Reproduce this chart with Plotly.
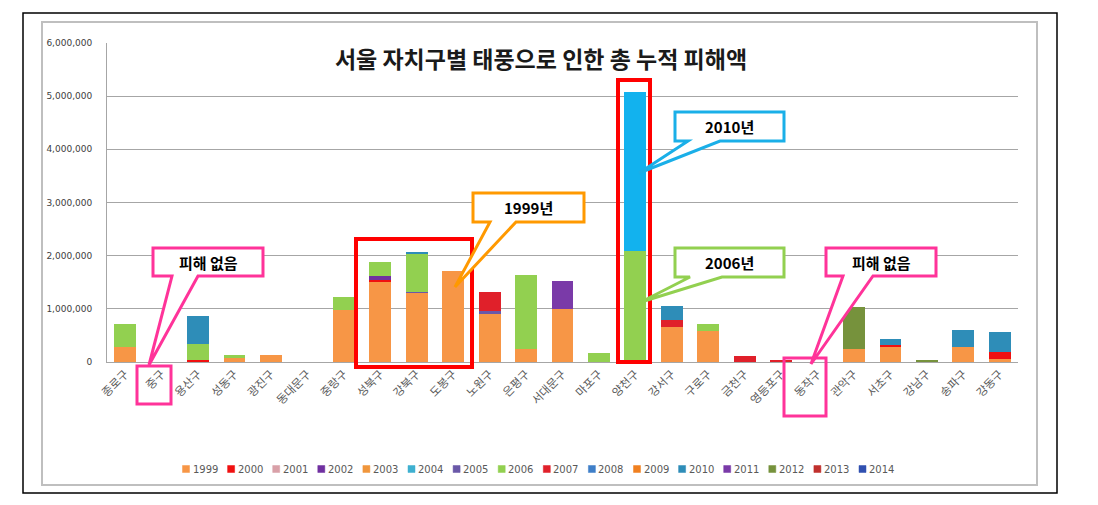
import plotly.graph_objects as go

# page pixels -> figure (body has an 8px margin in the written html)
OFF = 8
W, H = 1098 - OFF, 505 - OFF

districts = ["종로구", "중구", "용산구", "성동구", "광진구", "동대문구", "중랑구", "성북구", "강북구", "도봉구",
             "노원구", "은평구", "서대문구", "마포구", "양천구", "강서구", "구로구", "금천구", "영등포구", "동작구",
             "관악구", "서초구", "강남구", "송파구", "강동구"]

years = ["1999", "2000", "2001", "2002", "2003", "2004", "2005", "2006",
         "2007", "2008", "2009", "2010", "2011", "2012", "2013", "2014"]

v1999 = [290000, 0, 0, 80000, 140000, 0, 970000, 1500000, 1300000, 1710000, 910000, 250000, 990000,
         0, 0, 650000, 580000, 0, 0, 0, 240000, 290000, 0, 290000, 50000]
v2000 = [0, 0, 40000, 0, 0, 0, 0, 50000, 0, 0, 0, 0, 0, 0, 0, 0, 0, 0, 0, 0, 0, 30000, 0, 0, 130000]
v2001 = [0] * 25
v2002 = [0, 0, 0, 0, 0, 0, 0, 60000, 0, 0, 0, 0, 0, 0, 0, 0, 0, 0, 0, 0, 0, 0, 0, 0, 0]
v2003 = [0] * 25
v2004 = [0] * 25
v2005 = [0, 0, 0, 0, 0, 0, 0, 0, 20000, 0, 40000, 0, 0, 0, 0, 0, 0, 0, 0, 0, 0, 0, 0, 0, 0]
v2006 = [420000, 0, 290000, 50000, 0, 0, 260000, 270000, 720000, 0, 0, 1380000, 0, 160000, 2080000,
         0, 130000, 0, 0, 0, 0, 0, 0, 0, 0]
v2007 = [0, 0, 0, 0, 0, 0, 0, 0, 0, 0, 360000, 0, 0, 0, 0, 140000, 0, 120000, 20000, 0, 0, 0, 0, 0, 0]
v2008 = [0] * 25
v2009 = [0] * 25
v2010 = [0, 0, 540000, 0, 0, 0, 0, 0, 20000, 0, 0, 0, 0, 0, 3000000, 260000, 0, 0, 0, 0,
         0, 110000, 0, 310000, 390000]
v2011 = [0, 0, 0, 0, 0, 0, 0, 0, 0, 0, 0, 0, 530000, 0, 0, 0, 0, 0, 0, 0, 0, 0, 0, 0, 0]
v2012 = [0, 0, 0, 0, 0, 0, 0, 0, 0, 0, 0, 0, 0, 0, 0, 0, 0, 0, 0, 0, 790000, 0, 40000, 0, 0]
v2013 = [0] * 25
v2014 = [0] * 25

series = [v1999, v2000, v2001, v2002, v2003, v2004, v2005, v2006,
          v2007, v2008, v2009, v2010, v2011, v2012, v2013, v2014]

colors = ["#F79646", "#F01010", "#D9A0A8", "#7030A0", "#F0963C", "#3FB0D0", "#6A58A8", "#92D050",
          "#E0202A", "#3F7FC8", "#F08020", "#2E8DB8", "#7A3AA8", "#76923C", "#C0302D", "#3050B0"]

y_ticks = [0, 1000000, 2000000, 3000000, 4000000, 5000000, 6000000]


def px(x):
    return (x - OFF) / W


def py(y):
    return 1 - (y - OFF) / H


fig = go.Figure()
for yr, vals, col in zip(years, series, colors):
    mc = col
    if yr == "2010":
        mc = [("#12B2EE" if d == "양천구" else col) for d in districts]
    fig.add_trace(go.Bar(x=districts, y=vals, name=yr, showlegend=False,
                         marker=dict(color=mc, line=dict(width=0))))

shapes = []
annotations = []

# outer black frame and inner gray chart border
shapes.append(dict(type="rect", xref="paper", yref="paper", x0=px(23), x1=px(1057), y0=py(493), y1=py(13),
                   line=dict(color="black", width=1.5)))
shapes.append(dict(type="rect", xref="paper", yref="paper", x0=px(42), x1=px(1037), y0=py(485), y1=py(22),
                   line=dict(color="#BFBFBF", width=2)))

# legend (drawn row along the bottom)
for i, (yr, col) in enumerate(zip(years, colors)):
    cx = 186 + 45.1 * i
    shapes.append(dict(type="rect", xref="paper", yref="paper", x0=px(cx - 3.5), x1=px(cx + 3.5),
                       y0=py(472.5), y1=py(465.5), fillcolor=col, line=dict(color=col, width=0.5)))
    annotations.append(dict(xref="paper", yref="paper", x=px(cx + 4.5), y=py(469), text=yr, showarrow=False,
                            xanchor="left", yanchor="middle",
                            font=dict(family="DejaVu Sans", size=10, color="#595959")))

# red highlight rectangles
shapes.append(dict(type="rect", xref="paper", yref="paper", x0=px(356), x1=px(472), y0=py(367), y1=py(239),
                   line=dict(color="#FF0000", width=4)))
shapes.append(dict(type="rect", xref="paper", yref="paper", x0=px(618), x1=px(650), y0=py(362), y1=py(80),
                   line=dict(color="#FF0000", width=4)))

# pink rectangles around labels
shapes.append(dict(type="rect", xref="paper", yref="paper", x0=px(137), x1=px(171), y0=py(404), y1=py(366),
                   line=dict(color="#FF3399", width=3)))
shapes.append(dict(type="rect", xref="paper", yref="paper", x0=px(784), x1=px(826), y0=py(416), y1=py(358),
                   line=dict(color="#FF3399", width=3)))


def callout(box, base, tip, color):
    x0, y0, x1, y1 = box
    b0, b1 = base
    tx, ty = tip
    pts = [(x0, y0), (x1, y0), (x1, y1), (b1, y1), (tx, ty), (b0, y1), (x0, y1)]
    path = "M " + " L ".join(f"{px(a):.5f},{py(b):.5f}" for a, b in pts) + " Z"
    return dict(type="path", xref="paper", yref="paper", path=path, fillcolor="white",
                line=dict(color=color, width=3))


callouts = [
    ((153, 248, 263, 276), (172, 198), (149, 365), "#FF3399", "피해 없음"),
    ((826, 248, 936, 276), (843, 873), (811, 364), "#FF3399", "피해 없음"),
    ((473, 193, 584, 222), (490, 516), (455, 287), "#FF9900", "1999년"),
    ((675, 112, 784, 141), (688, 720), (639, 173), "#1AAFE8", "2010년"),
    ((675, 248, 784, 277), (690, 722), (641, 302), "#92D050", "2006년"),
]

for box, base, tip, col, txt in callouts:
    shapes.append(callout(box, base, tip, col))
    annotations.append(dict(xref="paper", yref="paper", x=px((box[0] + box[2]) / 2), y=py((box[1] + box[3]) / 2),
                            text=f"<b>{txt}</b>", showarrow=False, xanchor="center", yanchor="middle",
                            font=dict(family="Noto Sans CJK KR", size=15, color="black")))

fig.update_layout(
    width=W, height=H,
    margin=dict(l=0, r=0, t=0, b=0),
    paper_bgcolor="white", plot_bgcolor="white",
    barmode="stack", bargap=0.4,
    showlegend=False,
    title=dict(text="<b>서울 자치구별 태풍으로 인한 총 누적 피해액</b>", x=px(541), xanchor="center",
               y=py(60), yanchor="middle", font=dict(family="Noto Sans CJK KR", size=23, color="#1A1A1A")),
    xaxis=dict(domain=[px(107), px(1018)], tickangle=-45, showline=True, linecolor="#A6A6A6", linewidth=1,
               tickfont=dict(family="Noto Sans CJK KR", size=11.5, color="#595959"), automargin=False,
               showgrid=False, ticks=""),
    yaxis=dict(domain=[py(362), py(43)], range=[0, 6000000], tickvals=y_ticks, tickformat=",d",
               showline=True, linecolor="#A6A6A6", linewidth=1, gridcolor="#A6A6A6", gridwidth=1,
               tickfont=dict(family="DejaVu Sans", size=9, color="#404040"), automargin=False,
               ticklabelstandoff=12, zeroline=False),
    shapes=shapes,
    annotations=annotations,
)

fig.write_html("out.html")
